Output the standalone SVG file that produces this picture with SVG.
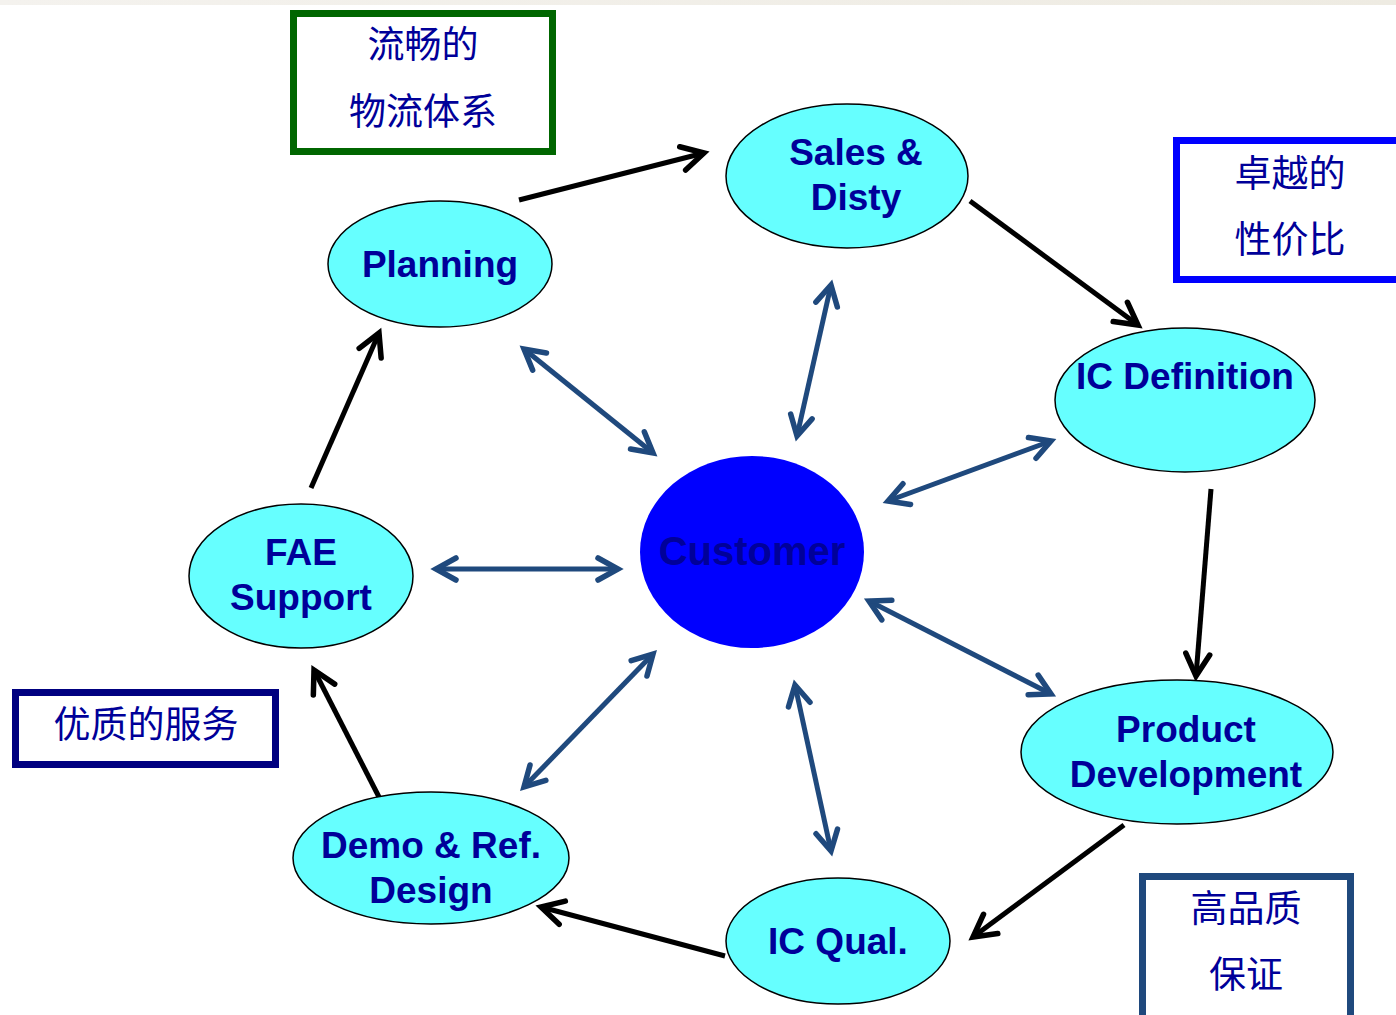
<svg xmlns="http://www.w3.org/2000/svg" width="1396" height="1015" viewBox="0 0 1396 1015">
<defs>
<linearGradient id="topbar" x1="0" x2="1" y1="0" y2="0">
<stop offset="0" stop-color="#f4f2ee"/><stop offset="1" stop-color="#eeebe2"/>
</linearGradient>
<marker id="ab" markerUnits="userSpaceOnUse" markerWidth="40" markerHeight="40" refX="0" refY="0" viewBox="-30 -20 40 40" orient="auto" overflow="visible">
<path d="M-22,-12 L0,0 L-22,12" fill="none" stroke="#000" stroke-width="5.5" stroke-linecap="round" stroke-linejoin="miter"/>
</marker>
<marker id="ub" markerUnits="userSpaceOnUse" markerWidth="40" markerHeight="40" refX="0" refY="0" viewBox="-30 -20 40 40" orient="auto-start-reverse" overflow="visible">
<path d="M-20,-11 L0,0 L-20,11" fill="none" stroke="#1f497d" stroke-width="5.5" stroke-linecap="round" stroke-linejoin="miter"/>
</marker>
</defs>
<style>
.node{fill:#66ffff;stroke:#000;stroke-width:1.5}
.lbl{font-family:"Liberation Sans",Arial,sans-serif;font-weight:bold;font-size:37px;fill:#000099;text-anchor:middle}
.cn{font-family:"Liberation Sans","Noto Sans CJK SC",sans-serif;font-size:37px;fill:#000099;text-anchor:middle}
.blk{fill:none;stroke:#000;stroke-width:5;marker-end:url(#ab)}
.blu{fill:none;stroke:#1f497d;stroke-width:5;marker-start:url(#ub);marker-end:url(#ub)}
.box{fill:#fff;stroke-width:7}
</style>
<rect x="0" y="0" width="1396" height="1015" fill="#fff"/>
<rect x="0" y="0" width="1396" height="5" fill="url(#topbar)"/>

<g id="connectors">
<line class="blk" x1="519" y1="200" x2="704" y2="153"/>
<line class="blk" x1="970" y1="201" x2="1138" y2="325"/>
<line class="blk" x1="1211" y1="489" x2="1196" y2="676"/>
<line class="blk" x1="1124" y1="825" x2="973" y2="937"/>
<line class="blk" x1="725" y1="956" x2="541" y2="907"/>
<line class="blk" x1="379" y1="797" x2="314" y2="670"/>
<line class="blk" x1="311" y1="488" x2="379" y2="333"/>
<line class="blu" x1="524" y1="349" x2="653" y2="453"/>
<line class="blu" x1="831" y1="285" x2="797" y2="436"/>
<line class="blu" x1="1051" y1="441" x2="888" y2="501"/>
<line class="blu" x1="436" y1="569" x2="618" y2="569"/>
<line class="blu" x1="869" y1="601" x2="1051" y2="694"/>
<line class="blu" x1="795" y1="685" x2="831" y2="851"/>
<line class="blu" x1="653" y1="654" x2="524" y2="787"/>
</g>

<g id="box-liuchang">
<rect class="box" x="293.5" y="13.5" width="259" height="138" stroke="#006600"/>
<text class="cn" x="423" y="58">流畅的</text>
<text class="cn" x="423" y="125">物流体系</text>
</g>
<g id="box-zhuoyue">
<rect class="box" x="1176.5" y="140.5" width="230" height="139" stroke="#0000ff"/>
<text class="cn" x="1290" y="187">卓越的</text>
<text class="cn" x="1290" y="253">性价比</text>
</g>
<g id="box-youzhi">
<rect class="box" x="15.5" y="692.5" width="260" height="72" stroke="#000080"/>
<text class="cn" x="146" y="738">优质的服务</text>
</g>
<g id="box-gaopinzhi">
<rect class="box" x="1142.5" y="876.5" width="208" height="150" stroke="#1f497d"/>
<text class="cn" x="1246" y="922">高品质</text>
<text class="cn" x="1246" y="988">保证</text>
</g>

<g id="planning">
<ellipse class="node" cx="440" cy="264" rx="112" ry="63"/>
<text class="lbl" x="440" y="277">Planning</text>
</g>
<g id="sales">
<ellipse class="node" cx="847" cy="176" rx="121" ry="72"/>
<text class="lbl" x="856" y="165">Sales &amp;</text>
<text class="lbl" x="856" y="210">Disty</text>
</g>
<g id="icdef">
<ellipse class="node" cx="1185" cy="400" rx="130" ry="72"/>
<text class="lbl" x="1185" y="389">IC Definition</text>
</g>
<g id="proddev">
<ellipse class="node" cx="1177" cy="752" rx="156" ry="72"/>
<text class="lbl" x="1186" y="742">Product</text>
<text class="lbl" x="1186" y="787">Development</text>
</g>
<g id="icqual">
<ellipse class="node" cx="838" cy="941" rx="112" ry="63"/>
<text class="lbl" x="838" y="954">IC Qual.</text>
</g>
<g id="demo">
<ellipse class="node" cx="431" cy="858" rx="138" ry="66"/>
<text class="lbl" x="431" y="858">Demo &amp; Ref.</text>
<text class="lbl" x="431" y="903">Design</text>
</g>
<g id="fae">
<ellipse class="node" cx="301" cy="576" rx="112" ry="72"/>
<text class="lbl" x="301" y="565">FAE</text>
<text class="lbl" x="301" y="610">Support</text>
</g>
<g id="customer">
<ellipse cx="752" cy="552" rx="112" ry="96" fill="#0000ff"/>
<text class="lbl" x="752" y="565" style="font-size:40px">Customer</text>
</g>
</svg>
